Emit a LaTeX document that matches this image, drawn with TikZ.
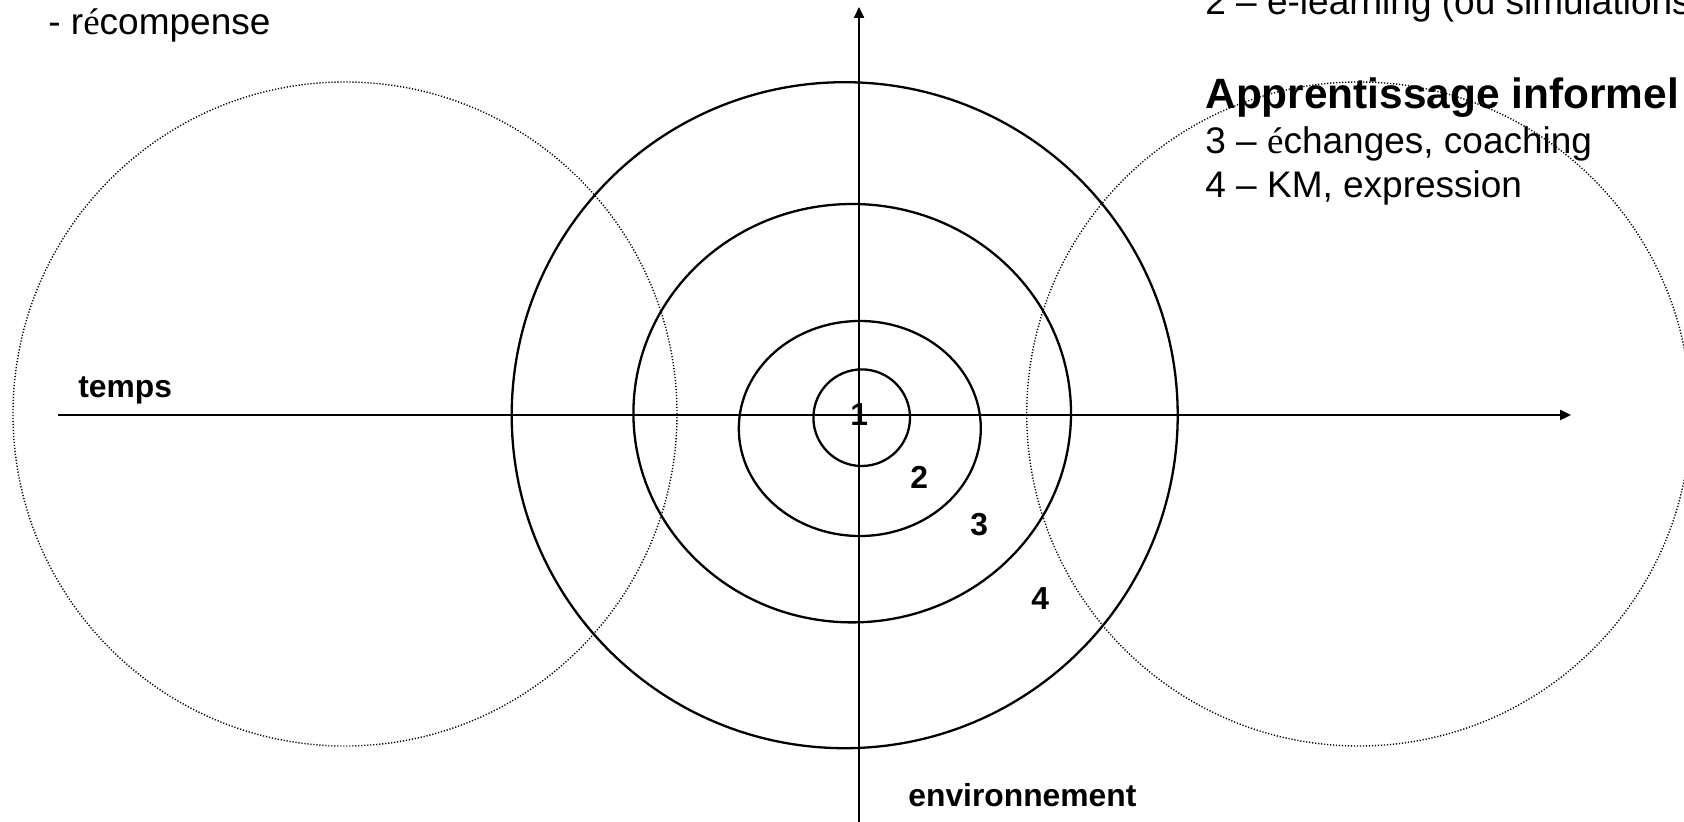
\documentclass[tikz,border=0pt]{standalone}
\usepackage{fontspec}
\setmainfont{Liberation Sans}
\newfontfamily\accfont{Liberation Serif}
\usetikzlibrary{arrows.meta}
\begin{document}
\begin{tikzpicture}[x=0.5pt,y=-0.5pt,
  ring/.style={line width=1.15pt},
  dotring/.style={line width=0.7pt, dash pattern=on 0.6pt off 0.9pt},
  axis/.style={line width=1.15pt, -{Triangle[length=5.5pt,width=5pt]}},
  txt/.style={anchor=base west, inner sep=0pt, font=\fontsize{18.5}{21}\selectfont},
  head/.style={anchor=base west, inner sep=0pt, font=\fontsize{21.2}{24}\selectfont\bfseries},
  lab/.style={anchor=base west, inner sep=0pt, font=\fontsize{15.9}{19}\selectfont\bfseries}]
\useasboundingbox (0,0) rectangle (1684,822);

% concentric rings
\draw[ring] (844.7,415.2) circle [radius=166.5pt];
\draw[ring] (852.2,413.2) ellipse [x radius=109.4pt, y radius=104.6pt];
\draw[ring] (859.8,428.5) ellipse [x radius=60.5pt, y radius=53.75pt];
\draw[ring] (861.7,417.7) circle [radius=24.15pt];

% axes
\coordinate (hl) at (58,415);
\coordinate (hr) at (1571,415);
\coordinate (vb) at (859,822);
\coordinate (vt) at (859,7);
\draw[axis] (hl) -- (hr);
\draw[axis] (vb) -- (vt);

% texts
\node[txt] (rec) at (48,35) {- r{\accfont é}compense};
\node[txt] (el) at (1205,15) {2 – e-learning (ou simulations};
\node[head] (ai) at (1205,109) {Apprentissage informel};
\node[txt] (ech) at (1205,154) {3 – {\accfont é}changes, coaching};
\node[txt] (km) at (1205,198) {4 – KM, expression};
\node[lab] (temps) at (78,398) {temps};
\node[lab] (env) at (908,806) {environnement};
\node[lab] (n1) at (850,426) {1};
\node[lab] (n2) at (910,489) {2};
\node[lab] (n3) at (970,536) {3};
\node[lab] (n4) at (1031,609) {4};

% dotted side circles
\draw[dotring] (345,414) circle [radius=166pt];
\draw[dotring] (1358.7,414) circle [radius=166pt];
\end{tikzpicture}
\end{document}
